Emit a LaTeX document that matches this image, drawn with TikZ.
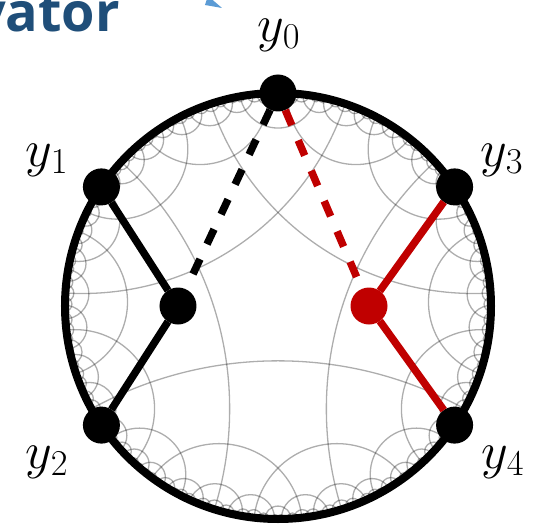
\documentclass[tikz,border=0pt]{standalone}
\usepackage{fix-cm}
\usepackage{fontspec}
\newfontfamily\rotulo{Open Sans}

\definecolor{rojo}{RGB}{192,0,0}
\definecolor{azul}{RGB}{31,78,121}
\definecolor{celeste}{RGB}{91,155,213}

% disco de Poincare y teselado {5,4}
\newcommand\radio{213}   % radio del disco (pt)
\newcommand\despl{0.05}  % traslacion del pentagono central
\newcommand\corte{0.98}  % teselas con centro mas alla: no se expanden

% centro (\gx,\gy) y radio^2 (\gr) de la geodesica de extremos (#1,#2),(#3,#4)
\newcommand\geodesica[4]{%
  \edef\gd{\fpeval{1+(#1)*(#3)+(#2)*(#4)}}%
  \edef\gx{\fpeval{((#1)+(#3))/\gd}}%
  \edef\gy{\fpeval{((#2)+(#4))/\gd}}%
  \edef\gr{\fpeval{(\gx)^2+(\gy)^2-1}}}
\def\partir#1,#2,#3,#4\fin{\geodesica{#1}{#2}{#3}{#4}}
% reflejo de (#1,#2) en la geodesica actual
\newcommand\refleja[2]{%
  \edef\rk{\fpeval{\gr/(((#1)-(\gx))^2+((#2)-(\gy))^2)}}%
  \edef\rx{\fpeval{\gx+\rk*((#1)-(\gx))}}%
  \edef\ry{\fpeval{\gy+\rk*((#2)-(\gy))}}}
\def\reflejaborde#1,#2,#3,#4\fin{%
  \refleja{#1}{#2}\edef\pa{\rx,\ry}%
  \refleja{#3}{#4}\xdef\nueva{\nueva;\pa,\rx,\ry}}
\newcommand\claveT[2]{\fpeval{round((#1)+100,4)}:\fpeval{round((#2)+100,4)}}
% extremos del pentagono trasladado
\newcommand\mobx[1]{\fpeval{cosd(#1)*(1-(\despl)^2)/(1+2*\despl*sind(#1)+(\despl)^2)}}
\newcommand\moby[1]{\fpeval{(sind(#1)*(1+(\despl)^2)+2*\despl)/(1+2*\despl*sind(#1)+(\despl)^2)}}

% cola de teselas: "cx,cy;borde;borde;borde;borde;borde|..."
\def\sacar#1|#2\fincola{\gdef\actual{#1}\gdef\cola{#2}}
\def\leertesela#1,#2;#3;#4;#5;#6;#7\fin{%
  \def\tcx{#1}\def\tcy{#2}\def\bA{#3}\def\bB{#4}\def\bC{#5}\def\bD{#6}\def\bE{#7}}
\newcommand\sembrar{%
  \edef\teta{\fpeval{acosd(sqrt((cos(pi/4)/sin(pi/5))^2-1)/(cos(pi/4)/sin(pi/5)))}}%
  \xdef\inicio{0,\despl}%
  \foreach \n in {0,...,4}{%
    \xdef\inicio{\inicio;\mobx{-90+72*\n-\teta},\moby{-90+72*\n-\teta},%
      \mobx{-90+72*\n+\teta},\moby{-90+72*\n+\teta}}}%
  \expandafter\gdef\csname T:\claveT{0}{\despl}\endcsname{}%
  \xdef\cola{\inicio|}}
\newcommand\paso{%
  \expandafter\sacar\cola\fincola
  \expandafter\leertesela\actual\fin
  \foreach \lado in {A,B,C,D,E}{%
    \expandafter\expandafter\expandafter\partir\csname b\lado\endcsname\fin
    % geodesica nueva: circulo entero, recortado por el disco
    \edef\clave{\claveT{\gx}{\gy}}%
    \ifcsname L:\clave\endcsname\else
      \expandafter\gdef\csname L:\clave\endcsname{}%
      \edef\px{\fpeval{round(\radio*\gx,2)}}%
      \edef\py{\fpeval{round(\radio*\gy,2)}}%
      \edef\pr{\fpeval{round(\radio*sqrt(\gr),2)}}%
      \draw[malla] (\px pt,\py pt) circle[radius=\pr pt];
    \fi
    % tesela vecina a traves de este lado
    \refleja{\tcx}{\tcy}%
    \edef\clave{\claveT{\rx}{\ry}}%
    \ifnum\fpeval{(\rx)^2+(\ry)^2<(\corte)^2}=1
      \ifcsname T:\clave\endcsname\else
        \expandafter\gdef\csname T:\clave\endcsname{}%
        \xdef\nueva{\rx,\ry}%
        \foreach \otro in {A,B,C,D,E}{%
          \ifx\otro\lado
            \xdef\nueva{\nueva;\csname b\otro\endcsname}%
          \else
            \expandafter\expandafter\expandafter\reflejaborde\csname b\otro\endcsname\fin
          \fi}%
        \xdef\cola{\cola\nueva|}%
      \fi
    \fi}}
\newcommand\procesar{\ifx\cola\empty\else\paso\expandafter\procesar\fi}

\begin{document}
\begin{tikzpicture}[
    punto/.style={circle, fill=black, minimum size=37pt, inner sep=0pt, outer sep=0pt},
    arista/.style={line width=7.5pt},
    discont/.style={line width=7.5pt, dash pattern=on 16.5pt off 16.5pt, shorten >=2pt},
    malla/.style={line width=1.3pt, draw opacity=0.32},
    etiqueta/.style={font=\fontsize{52}{60}\selectfont, inner sep=0pt}]
  \useasboundingbox (-278pt,-219pt) rectangle (273pt,306pt);
  % --- teselado de fondo ---
  \begin{scope}
    \clip (0,0) circle[radius=\radio pt];
    \sembrar
    \procesar
  \end{scope}
  % --- borde del disco ---
  \draw[line width=8pt] (0,0) circle[radius=\radio pt];
  % --- puntos en el borde y puntos interiores ---
  \node[punto] (y0) at (90:\radio pt) {};
  \node[punto] (y1) at (146:\radio pt) {};
  \node[punto] (y2) at (214:\radio pt) {};
  \node[punto] (y3) at (34:\radio pt) {};
  \node[punto] (y4) at (326:\radio pt) {};
  \node[punto] (s1) at (-100pt,0pt) {};
  \node[punto, fill=rojo] (s2) at (91pt,0pt) {};
  % --- aristas ---
  \draw[arista] (y1) -- (s1);
  \draw[arista] (s1) -- (y2);
  \draw[discont] (y0) -- (s1);
  \draw[arista, rojo] (y3) -- (s2);
  \draw[arista, rojo] (s2) -- (y4);
  \draw[discont, rojo] (y0) -- (s2);
  % --- etiquetas ---
  \node[etiqueta] (ly0) at (1pt,271pt) {$y_0$};
  \node[etiqueta] (ly1) at (-231pt,146pt) {$y_1$};
  \node[etiqueta] (ly2) at (-231pt,-156pt) {$y_2$};
  \node[etiqueta] (ly3) at (224pt,146pt) {$y_3$};
  \node[etiqueta] (ly4) at (225pt,-156pt) {$y_4$};
  % --- restos del titulo (recortados) ---
  \node[font=\rotulo\bfseries\fontsize{54}{64}\selectfont, text=azul,
    anchor=base east, inner sep=0pt] (titulo) at (-158pt,274pt) {vator};
  \fill[celeste] (-73pt,301pt) -- (-56pt,298pt) -- (-70pt,310pt) -- cycle;
\end{tikzpicture}
\end{document}
